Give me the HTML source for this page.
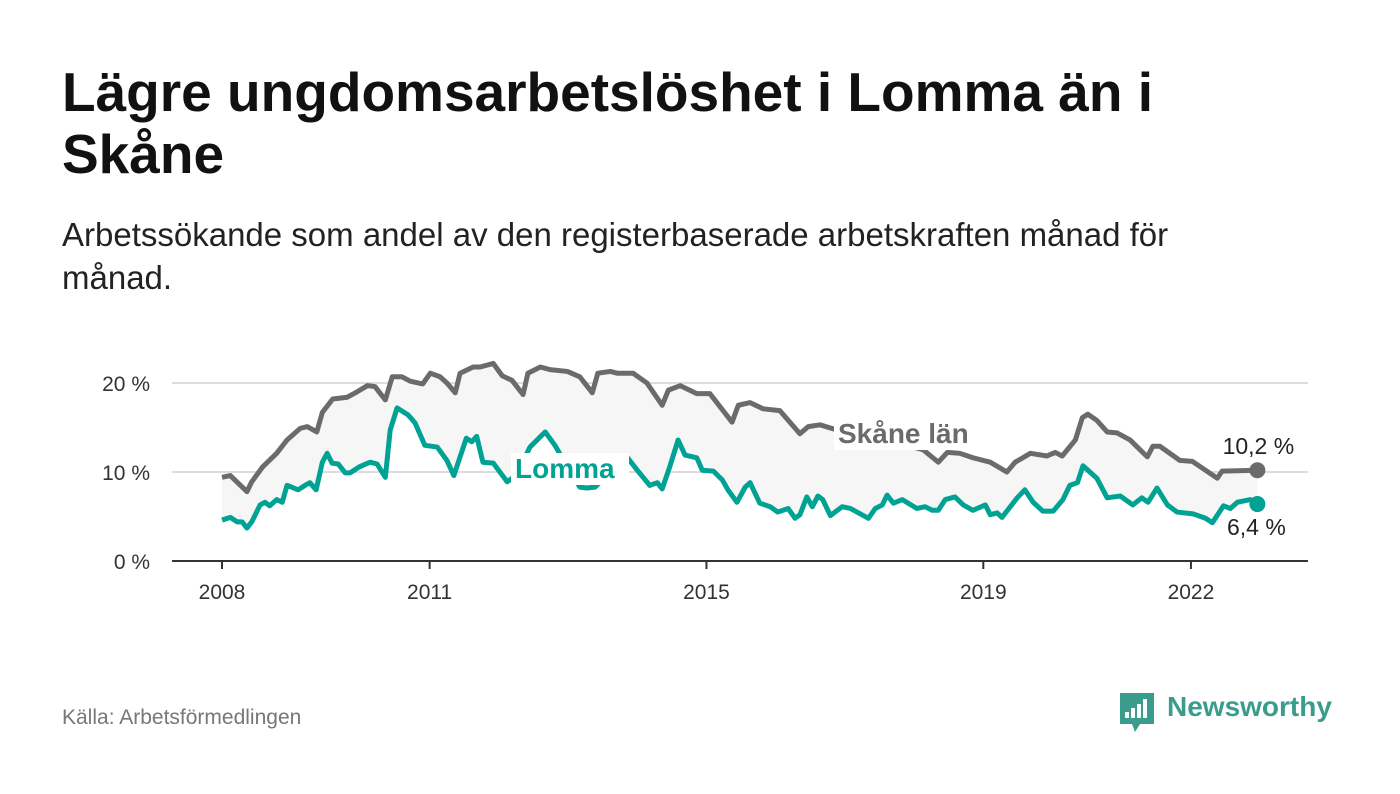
<!DOCTYPE html>
<html><head><meta charset="utf-8">
<style>
body{margin:0;background:#fff;font-family:"Liberation Sans",sans-serif;}
#wrap{position:relative;width:1400px;height:794px;overflow:hidden;}
h1{position:absolute;left:62px;top:61px;margin:0;font-size:55px;line-height:62px;font-weight:bold;color:#111;width:1160px;}
.sub{position:absolute;left:62px;top:213px;margin:0;font-size:33px;line-height:43px;color:#222;width:1190px;}
.src{position:absolute;left:62px;top:706px;font-size:21px;color:#777;}
.logo{position:absolute;left:1167px;top:691px;font-size:28px;font-weight:bold;color:#3a9c8c;}
svg{position:absolute;left:0;top:0;}
</style></head><body>
<div id="wrap">
<h1>Lägre ungdomsarbetslöshet i Lomma än i Skåne</h1>
<p class="sub">Arbetssökande som andel av den registerbaserade arbetskraften månad för månad.</p>
<div class="src">Källa: Arbetsförmedlingen</div>
<svg width="1400" height="794" id="chart">
<g id="logoicon">
<path d="M1120 693 h34 v31 h-14 l-5 8 l-3 -8 h-12 z" fill="#3a9c8c"/>
<rect x="1125" y="712" width="4" height="6" fill="#fff"/><rect x="1131" y="708" width="4" height="10" fill="#fff"/><rect x="1137" y="704" width="4" height="14" fill="#fff"/><rect x="1143" y="699" width="4" height="19" fill="#fff"/>
</g>
</svg>
<div class="logo">Newsworthy</div>
</div>
<script>
const skaneDates=[2008.00,2008.12,2008.36,2008.43,2008.59,2008.79,2008.94,2009.13,2009.23,2009.37,2009.45,2009.60,2009.81,2009.95,2010.10,2010.21,2010.36,2010.46,2010.60,2010.72,2010.90,2011.01,2011.15,2011.25,2011.37,2011.44,2011.63,2011.73,2011.92,2012.05,2012.19,2012.35,2012.42,2012.60,2012.74,2012.99,2013.17,2013.35,2013.43,2013.61,2013.71,2013.94,2014.14,2014.36,2014.45,2014.62,2014.86,2015.05,2015.37,2015.46,2015.63,2015.82,2016.06,2016.35,2016.47,2016.64,2016.81,2017.22,2017.65,2018.13,2018.35,2018.48,2018.66,2018.85,2019.10,2019.34,2019.46,2019.68,2019.92,2020.04,2020.14,2020.33,2020.43,2020.51,2020.64,2020.79,2020.93,2021.12,2021.37,2021.45,2021.55,2021.84,2022.02,2022.38,2022.45,2022.96];
const skaneValues=[9.4,9.6,7.8,8.9,10.6,12.1,13.6,14.9,15.1,14.5,16.7,18.2,18.4,19.0,19.7,19.6,18.1,20.7,20.7,20.2,19.9,21.1,20.7,20.0,18.9,21.1,21.8,21.8,22.2,20.8,20.3,18.7,21.1,21.8,21.5,21.3,20.7,18.9,21.1,21.3,21.1,21.1,20.0,17.5,19.2,19.7,18.8,18.8,15.6,17.5,17.8,17.1,16.9,14.3,15.1,15.3,14.9,14.0,13.5,12.5,11.1,12.2,12.1,11.6,11.1,10.0,11.1,12.1,11.8,12.2,11.8,13.6,16.1,16.5,15.8,14.5,14.4,13.6,11.7,12.9,12.9,11.3,11.2,9.3,10.1,10.2];
const lommaDates=[2008.00,2008.12,2008.22,2008.29,2008.36,2008.43,2008.55,2008.62,2008.69,2008.79,2008.87,2008.94,2009.10,2009.20,2009.27,2009.36,2009.45,2009.52,2009.59,2009.68,2009.78,2009.85,2009.99,2010.14,2010.24,2010.36,2010.43,2010.53,2010.69,2010.79,2010.93,2011.11,2011.25,2011.35,2011.44,2011.53,2011.61,2011.68,2011.77,2011.92,2012.12,2012.25,2012.45,2012.67,2012.81,2012.96,2013.17,2013.27,2013.39,2013.61,2013.75,2013.85,2014.00,2014.18,2014.29,2014.36,2014.47,2014.59,2014.69,2014.86,2014.94,2015.10,2015.23,2015.31,2015.44,2015.56,2015.63,2015.77,2015.92,2016.03,2016.18,2016.28,2016.35,2016.45,2016.53,2016.61,2016.68,2016.79,2016.96,2017.08,2017.34,2017.44,2017.54,2017.61,2017.70,2017.83,2018.04,2018.16,2018.26,2018.35,2018.45,2018.59,2018.71,2018.85,2019.03,2019.10,2019.20,2019.27,2019.49,2019.60,2019.72,2019.86,2020.01,2020.15,2020.25,2020.36,2020.44,2020.64,2020.79,2020.98,2021.16,2021.29,2021.38,2021.51,2021.66,2021.80,2022.03,2022.21,2022.31,2022.47,2022.57,2022.67,2022.86,2022.96];
const lommaValues=[4.6,4.9,4.4,4.4,3.7,4.4,6.3,6.6,6.2,6.9,6.6,8.5,8.0,8.5,8.8,8.0,11.1,12.1,11.0,10.9,9.9,9.9,10.6,11.1,10.9,9.4,14.7,17.2,16.4,15.5,13.0,12.8,11.3,9.6,11.7,13.8,13.4,14.0,11.1,11.0,8.9,9.6,12.8,14.5,13.0,11.0,8.3,8.2,8.3,10.0,11.8,11.7,10.2,8.5,8.8,8.1,10.6,13.6,11.9,11.6,10.2,10.1,9.1,8.0,6.6,8.3,8.8,6.5,6.1,5.5,5.9,4.8,5.2,7.2,6.1,7.3,6.9,5.1,6.1,5.9,4.8,5.9,6.3,7.4,6.5,6.9,5.9,6.1,5.7,5.7,6.9,7.2,6.3,5.7,6.3,5.2,5.4,4.9,7.1,8.0,6.6,5.6,5.6,6.9,8.5,8.8,10.7,9.3,7.1,7.3,6.3,7.1,6.6,8.2,6.3,5.5,5.3,4.8,4.3,6.2,5.9,6.6,6.9,6.4];
const yTicks=[0,10,20];
const yTickLabels=["0 %","10 %","20 %"];
const xTicks=[2008,2011,2015,2019,2022];
const xTickLabels=["2008","2011","2015","2019","2022"];
const skaneEndLabel="10,2 %", lommaEndLabel="6,4 %";

const NS="http://www.w3.org/2000/svg";
const svg=document.getElementById('chart');
const X=d=>222+(d-2008)*69.21;
const Y=v=>561-v*8.9;
function mk(tag,attrs,parent){const e=document.createElementNS(NS,tag);for(const k in attrs)e.setAttribute(k,attrs[k]);(parent||svg).appendChild(e);return e;}

yTicks.forEach((t,i)=>{
  if(t>0){const g=mk('line',{x1:172,x2:1308,y1:Y(t),y2:Y(t),stroke:'#dcdcdc','stroke-width':2});
  
  }
  const l=mk('text',{x:150,y:Y(t)+8,'text-anchor':'end','font-size':21,fill:'#333','font-family':'Liberation Sans, sans-serif'});
  l.textContent=yTickLabels[i];
  
  
});
let pts=skaneDates.map((d,i)=>X(d)+','+Y(skaneValues[i]));
for(let i=lommaDates.length-1;i>=0;i--)pts.push(X(lommaDates[i])+','+Y(lommaValues[i]));
const area=mk('polygon',{points:pts.join(' '),fill:'#f6f6f6'});



const ax=mk('line',{x1:172,x2:1308,y1:561,y2:561,stroke:'#333','stroke-width':2});


xTicks.forEach((t,i)=>{
  const tk=mk('line',{x1:X(t),x2:X(t),y1:561,y2:569,stroke:'#333','stroke-width':2});
  
  
  const l=mk('text',{x:X(t),y:599,'text-anchor':'middle','font-size':21,fill:'#333','font-family':'Liberation Sans, sans-serif'});
  l.textContent=xTickLabels[i];
  
  
});
const sk=mk('polyline',{points:skaneDates.map((d,i)=>X(d)+','+Y(skaneValues[i])).join(' '),fill:'none',stroke:'#6b6b6e','stroke-width':5,'stroke-linejoin':'round'});


const lo=mk('polyline',{points:lommaDates.map((d,i)=>X(d)+','+Y(lommaValues[i])).join(' '),fill:'none',stroke:'#00a393','stroke-width':5,'stroke-linejoin':'round'});



const sl=mk('rect',{x:834,y:416,width:150,height:34,fill:'#fff'});


const st=mk('text',{x:838,y:443,'font-size':28,'font-weight':'bold',fill:'#6b6b6e','font-family':'Liberation Sans, sans-serif'});
st.textContent='Skåne län';


const ll=mk('rect',{x:511,y:453,width:118,height:32,fill:'#fff'});


const lt=mk('text',{x:515,y:478,'font-size':28,'font-weight':'bold',fill:'#00a393','font-family':'Liberation Sans, sans-serif'});
lt.textContent='Lomma';



const ls=skaneDates.length-1, ll2=lommaDates.length-1;
const d1=mk('circle',{cx:X(skaneDates[ls]),cy:Y(skaneValues[ls]),r:8,fill:'#6b6b6e'});


const d2=mk('circle',{cx:X(lommaDates[ll2]),cy:Y(lommaValues[ll2]),r:8,fill:'#00a393'});


const e1=mk('text',{x:X(skaneDates[ls])+1,y:Y(skaneValues[ls])-16,'text-anchor':'middle','font-size':23,fill:'#222','font-family':'Liberation Sans, sans-serif'});
e1.textContent=skaneEndLabel;


const e2=mk('text',{x:X(lommaDates[ll2])-1,y:Y(lommaValues[ll2])+31,'text-anchor':'middle','font-size':23,fill:'#222','font-family':'Liberation Sans, sans-serif'});
e2.textContent=lommaEndLabel;


svg.appendChild(document.getElementById('logoicon'));
</script>
</body></html>
